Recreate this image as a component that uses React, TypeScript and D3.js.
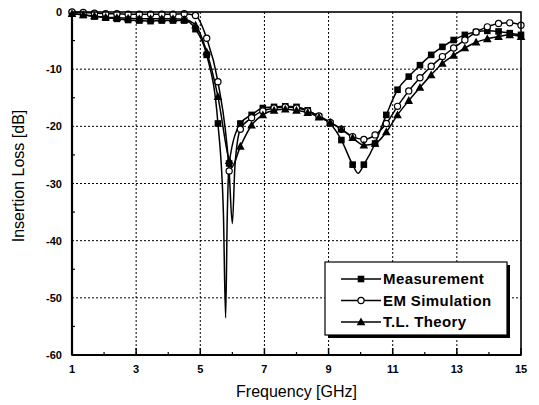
import React from "react";
import * as d3 from "d3";

const freqs = [1.0, 1.35, 1.7, 2.05, 2.4, 2.75, 3.1, 3.45, 3.8, 4.15, 4.5, 4.85, 5.2, 5.55, 5.9, 6.25, 6.6, 6.95, 7.3, 7.65, 8.0, 8.35, 8.7, 9.05, 9.4, 9.75, 10.1, 10.45, 10.8, 11.15, 11.5, 11.85, 12.2, 12.55, 12.9, 13.25, 13.6, 13.95, 14.3, 14.65, 15.0];

const measurement = [-0.3, -0.5, -0.8, -1.0, -1.2, -1.4, -1.5, -1.6, -1.5, -1.5, -1.5, -3.0, -7.5, -19.5, -26.5, -19.5, -18.0, -16.8, -16.6, -16.5, -16.6, -17.2, -18.3, -19.5, -22.4, -26.7, -26.7, -23.0, -18.0, -13.6, -11.3, -9.3, -7.5, -6.1, -4.9, -4.0, -3.5, -3.3, -3.4, -3.7, -4.0];
const measurementExtraF = [5.72, 5.79, 5.84, 9.92];
const measurementExtraV = [-35, -53.5, -36, -28.2];

const emSimulation = [0, -0.1, -0.2, -0.3, -0.3, -0.4, -0.4, -0.4, -0.4, -0.4, -0.3, -0.6, -4.6, -12.2, -27.8, -20.5, -18.5, -17.3, -16.8, -16.6, -16.8, -17.3, -18.2, -19.3, -20.5, -21.8, -22.3, -21.5, -19.5, -16.5, -13.8, -11.5, -9.5, -7.8, -6.3, -4.9, -3.5, -2.6, -2.0, -1.9, -2.3];
const emExtraF = [6.0, 6.08];
const emExtraV = [-37, -27];

const tlTheory = [-0.3, -0.5, -0.7, -0.9, -1.0, -1.1, -1.2, -1.2, -1.2, -1.2, -1.3, -2.3, -7.0, -14.8, -26.0, -23.5, -19.8, -18.0, -17.2, -17.0, -17.2, -17.6, -18.4, -19.3, -20.5, -22.0, -23.3, -23.0, -21.0, -18.0, -15.5, -13.2, -11.0, -9.0, -7.6, -6.3, -5.3, -4.7, -4.3, -4.0, -4.3];
const tlExtraF = [5.97];
const tlExtraV = [-27.2];

const xTicks = [1, 3, 5, 7, 9, 11, 13, 15];
const xMinor = [2, 4, 6, 8, 10, 12, 14];
const yTicks = [0, -10, -20, -30, -40, -50, -60];
const yMinor = [-5, -15, -25, -35, -45, -55];
const legendLabels = ["Measurement", "EM Simulation", "T.L. Theory"];

const W = 539, H = 405;
const L = 72, R = 521, T = 12, B = 355;

type Pt = [number, number];

function merge(vals: number[], ef: number[], ev: number[]): Pt[] {
  const pts: Pt[] = freqs.map((f, i) => [f, vals[i]] as Pt);
  ef.forEach((f, i) => pts.push([f, ev[i]]));
  pts.sort((a, b) => a[0] - b[0]);
  return pts;
}

function Marker({ kind, x, y }: { kind: number; x: number; y: number }) {
  if (kind === 0) return <rect x={x - 3.3} y={y - 3.3} width={6.6} height={6.6} fill="#000" />;
  if (kind === 1) return <circle cx={x} cy={y} r={3.1} fill="#fff" stroke="#000" strokeWidth={1.2} />;
  return <path d={`M${x},${y - 4.5}L${x + 4.3},${y + 3.3}L${x - 4.3},${y + 3.3}Z`} fill="#000" />;
}

export default function App() {
  const x = d3.scaleLinear().domain([1, 15]).range([L, R]);
  const y = d3.scaleLinear().domain([-60, 0]).range([B, T]);
  const line = d3.line<Pt>().x((d) => x(d[0])).y((d) => y(d[1])).curve(d3.curveMonotoneX);

  const series = [
    { vals: measurement, pts: merge(measurement, measurementExtraF, measurementExtraV) },
    { vals: emSimulation, pts: merge(emSimulation, emExtraF, emExtraV) },
    { vals: tlTheory, pts: merge(tlTheory, tlExtraF, tlExtraV) },
  ];

  const font = "Arial, 'Liberation Sans', Helvetica, sans-serif";
  const lgX = 325, lgY = 262, lgW = 182, lgH = 73;

  return (
    <svg width={W} height={H} style={{ position: "absolute", left: 0, top: 0, background: "#fff" }} fontFamily={font}>
      <rect x={0} y={0} width={W} height={H} fill="#fff" />
      {/* grid */}
      {xTicks.slice(1, -1).map((t) => (
        <line key={"gx" + t} x1={x(t)} x2={x(t)} y1={T} y2={B} stroke="#000" strokeWidth={1} strokeDasharray="2,2" />
      ))}
      {yTicks.slice(1, -1).map((t) => (
        <line key={"gy" + t} x1={L} x2={R} y1={y(t)} y2={y(t)} stroke="#000" strokeWidth={1} strokeDasharray="2,2" />
      ))}
      {/* minor ticks */}
      {xMinor.map((t) => (
        <line key={"mx" + t} x1={x(t)} x2={x(t)} y1={B} y2={B - 3} stroke="#000" strokeWidth={1.2} />
      ))}
      {xTicks.map((t) => (
        <line key={"Mx" + t} x1={x(t)} x2={x(t)} y1={B} y2={B - 7} stroke="#000" strokeWidth={1.5} />
      ))}
      {yMinor.map((t) => (
        <line key={"my" + t} x1={L} x2={L + 3} y1={y(t)} y2={y(t)} stroke="#000" strokeWidth={1.2} />
      ))}
      {/* series */}
      {series.map((s, si) => (
        <path key={"l" + si} d={line(s.pts) || ""} fill="none" stroke="#000" strokeWidth={1.5} />
      ))}
      {series.map((s, si) =>
        freqs.map((f, i) => <Marker key={"m" + si + "-" + i} kind={si} x={x(f)} y={y(s.vals[i])} />)
      )}
      {/* frame */}
      <rect x={L} y={T} width={R - L} height={B - T} fill="none" stroke="#000" strokeWidth={1.6} />
      <line x1={L} x2={L} y1={T} y2={B} stroke="#000" strokeWidth={2.2} />
      <line x1={L} x2={R} y1={B} y2={B} stroke="#000" strokeWidth={2.2} />
      {/* tick labels */}
      {xTicks.map((t) => (
        <text key={"tx" + t} x={x(t)} y={B + 18} textAnchor="middle" fontSize={11} fontWeight="bold">{t}</text>
      ))}
      {yTicks.map((t) => (
        <text key={"ty" + t} x={L - 10} y={y(t) + 4} textAnchor="end" fontSize={11} fontWeight="bold">{t}</text>
      ))}
      {/* axis titles */}
      <text x={296.5} y={397} textAnchor="middle" fontSize={16}>Frequency [GHz]</text>
      <text transform={`translate(24,176) rotate(-90)`} textAnchor="middle" fontSize={16}>Insertion Loss [dB]</text>
      {/* legend */}
      <rect x={lgX + 3} y={lgY + 3} width={lgW} height={lgH} fill="#000" />
      <rect x={lgX} y={lgY} width={lgW} height={lgH} fill="#fff" stroke="#000" strokeWidth={1.2} />
      {legendLabels.map((lab, i) => {
        const yy = lgY + 17 + i * 21.5;
        return (
          <g key={"lg" + i}>
            <line x1={lgX + 16} x2={lgX + 56} y1={yy} y2={yy} stroke="#000" strokeWidth={1.5} />
            <Marker kind={i} x={lgX + 36} y={yy} />
            <text x={lgX + 58} y={yy + 5} fontSize={15} fontWeight="bold" letterSpacing={0.4}>{lab}</text>
          </g>
        );
      })}
    </svg>
  );
}
